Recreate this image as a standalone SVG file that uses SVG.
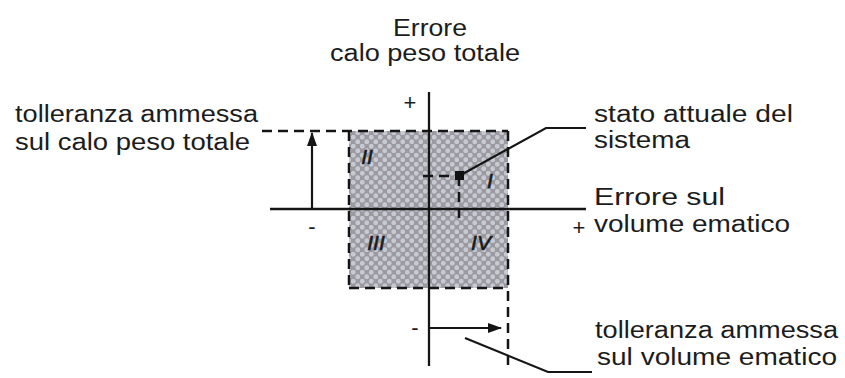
<svg xmlns="http://www.w3.org/2000/svg" width="845" height="378" viewBox="0 0 845 378">
<style>
.t{font-family:"Liberation Sans",Arial,sans-serif;font-size:23px;fill:#1c1c1c}
.s{font-family:"Liberation Sans",Arial,sans-serif;font-size:22px;fill:#1c1c1c}
.r{font-family:"Liberation Sans",Arial,sans-serif;font-size:21px;font-style:italic;fill:#1a1a1a;stroke:#1a1a1a;stroke-width:0.6}
.ax{stroke:#151515;stroke-width:2.3;fill:none}
.ds{stroke:#151515;stroke-width:2.5;fill:none;stroke-dasharray:10 6}
.ln{stroke:#151515;stroke-width:2.2;fill:none}
</style>
<defs>
<pattern id="dots" width="9" height="9" patternUnits="userSpaceOnUse">
<rect width="9" height="9" fill="#9c9aa0"/>
<circle cx="2.25" cy="2.25" r="2.4" fill="#c6cad2"/>
<circle cx="6.75" cy="6.75" r="2.4" fill="#c6cad2"/>
</pattern>
<marker id="ah" markerWidth="14" markerHeight="10" refX="13" refY="5" orient="auto" markerUnits="userSpaceOnUse">
<path d="M0,0 L14,5 L0,10 Z" fill="#151515"/>
</marker>
</defs>
<g id="region">
<rect x="349" y="131" width="159" height="157" fill="url(#dots)"/>
</g>
<g id="connectors">
<line class="ds" x1="262" y1="131" x2="508" y2="131"/>
<line class="ds" x1="349" y1="131" x2="349" y2="288"/>
<line class="ds" x1="349" y1="288" x2="508" y2="288"/>
<line class="ds" x1="508" y1="131" x2="508" y2="366"/>
<line class="ax" x1="429" y1="92" x2="429" y2="366"/>
<line class="ax" x1="270" y1="209" x2="586" y2="209"/>
<line class="ln" x1="312" y1="209" x2="312" y2="133" marker-end="url(#ah)"/>
<line class="ln" x1="430" y1="328" x2="501" y2="328" marker-end="url(#ah)"/>
<line class="ds" x1="423" y1="176" x2="459" y2="176" stroke-dasharray="5 17 12 20"/>
<line class="ds" x1="459" y1="176" x2="459" y2="220" stroke-dasharray="6 6"/>
<polyline class="ln" points="459,176 546,128 586,128"/>
<polyline class="ln" points="465,338 548,372 592,372"/>
</g>
<g id="point">
<rect x="455" y="171" width="9" height="9" fill="#111"/>
</g>
<g id="labels">
<text class="t" x="430" y="36" text-anchor="middle" textLength="74" lengthAdjust="spacingAndGlyphs">Errore</text>
<text class="t" x="425" y="61" text-anchor="middle" textLength="190" lengthAdjust="spacingAndGlyphs">calo peso totale</text>
<text class="t" x="15" y="122" textLength="243" lengthAdjust="spacingAndGlyphs">tolleranza ammessa</text>
<text class="t" x="15" y="150" textLength="235" lengthAdjust="spacingAndGlyphs">sul calo peso totale</text>
<text class="t" x="594" y="122" textLength="199" lengthAdjust="spacingAndGlyphs">stato attuale del</text>
<text class="t" x="594" y="148" textLength="96" lengthAdjust="spacingAndGlyphs">sistema</text>
<text class="t" x="594" y="205" textLength="131" lengthAdjust="spacingAndGlyphs">Errore sul</text>
<text class="t" x="594" y="232" textLength="196" lengthAdjust="spacingAndGlyphs">volume ematico</text>
<text class="t" x="595" y="338" textLength="243" lengthAdjust="spacingAndGlyphs">tolleranza ammessa</text>
<text class="t" x="597" y="365" textLength="240" lengthAdjust="spacingAndGlyphs">sul volume ematico</text>
<text class="s" x="410" y="110" text-anchor="middle">+</text>
<text class="s" x="579" y="235" text-anchor="middle">+</text>
<text class="s" x="312" y="234" text-anchor="middle">-</text>
<text class="s" x="415" y="335" text-anchor="middle">-</text>
<text class="r" x="367" y="164" text-anchor="middle">II</text>
<text class="r" x="490" y="188" text-anchor="middle">I</text>
<text class="r" x="376" y="250" text-anchor="middle">III</text>
<text class="r" x="481" y="250" text-anchor="middle">IV</text>
</g>
</svg>
